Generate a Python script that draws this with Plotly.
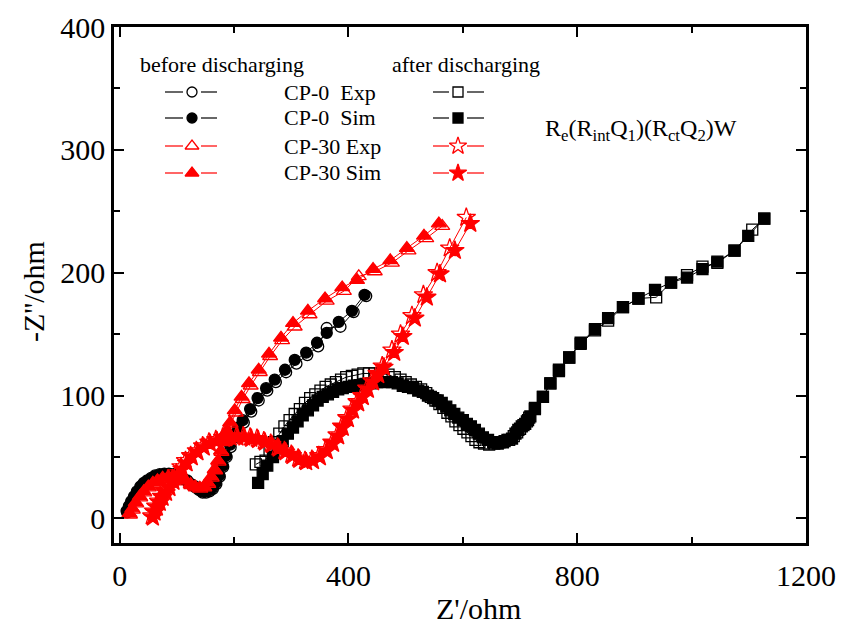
import plotly.graph_objects as go

# ---- Nyquist data (Z' , -Z'') in ohm ----
cp0_before_sim = [(12, 6), (16, 10), (20, 14), (25, 18), (30, 22), (36, 26), (42, 29), (48, 31), (55, 33),
                  (62, 35), (70, 36), (78, 36.5), (86, 36.5), (94, 36), (102, 35), (110, 33), (118, 31),
                  (125, 28), (132, 26), (138, 24), (144, 22), (150, 22), (156, 23), (162, 25), (168, 29),
                  (174, 35), (180, 43), (186, 51), (193, 60), (200, 68), (207, 74), (215, 80), (228, 89),
                  (241, 98), (256, 106), (271, 113), (289, 121), (306, 129), (326, 135), (345, 143),
                  (362, 151), (383, 160), (406, 169), (428, 182)]
cp0_before_exp = [(13, 5), (17, 9), (21, 13), (26, 17), (31, 21), (37, 25), (43, 28), (49, 30), (56, 32),
                  (63, 34), (71, 35), (79, 35.5), (87, 35.5), (95, 35), (103, 34), (111, 32), (119, 30),
                  (126, 27), (133, 25), (139, 23), (145, 21), (151, 21), (157, 22), (163, 24), (169, 28),
                  (175, 34), (181, 42), (187, 50), (194, 58), (201, 66), (208, 72), (217, 78), (230, 87),
                  (243, 96), (258, 104), (273, 111), (291, 119), (309, 126), (328, 133), (347, 140),
                  (362, 155), (386, 156), (409, 168), (431, 181)]

cp30_before_sim = [(17, 4), (22, 8), (28, 13), (35, 18), (42, 22), (50, 26), (58, 29), (66, 31), (75, 33),
                   (85, 34), (95, 34), (105, 33), (115, 31), (124, 28), (132, 26), (140, 25), (147, 26),
                   (154, 29), (160, 34), (166, 40), (172, 47), (177, 55), (182, 63), (187, 71), (193, 78),
                   (201, 88), (213, 99), (226, 110), (243, 121), (261, 134), (282, 147), (303, 159),
                   (329, 169), (359, 179), (389, 188), (415, 194), (443, 203), (473, 210), (502, 220),
                   (532, 230), (558, 240)]
cp30_before_exp = [(18, 3), (23, 7), (29, 12), (36, 17), (43, 21), (51, 25), (59, 28), (67, 30), (76, 32),
                   (86, 33), (96, 33), (106, 32), (116, 30), (125, 27), (133, 25), (141, 24), (148, 25),
                   (155, 28), (161, 33), (167, 39), (173, 46), (178, 54), (183, 62), (188, 70), (194, 77),
                   (203, 86), (215, 97), (229, 108), (245, 119), (263, 132), (284, 145), (306, 156),
                   (332, 166), (362, 177), (392, 185), (418, 197), (446, 201), (476, 208), (505, 218),
                   (536, 228), (564, 238)]

cp0_after_sim = [(242, 29), (250, 36), (258, 43), (268, 50), (276, 57), (285, 63), (294, 69), (303, 74),
                 (311, 79), (320, 84), (329, 88), (338, 92), (346, 96), (355, 99), (364, 101), (373, 103),
                 (382, 105), (390, 106), (400, 107), (410, 108), (420, 108.5), (430, 109.5), (440, 110),
                 (450, 111), (463, 111), (476, 111), (486, 110), (495, 108), (504, 107), (513, 106),
                 (522, 104), (530, 103), (539, 100), (548, 98), (556, 96), (563, 94), (571, 91), (578, 88),
                 (585, 85), (592, 82), (600, 80), (607, 77), (614, 75), (621, 72), (628, 69), (635, 66),
                 (644, 64), (653, 62), (661, 61), (670, 62), (678, 64), (686, 65), (692, 69), (697, 72),
                 (703, 75), (709, 77), (714, 80), (718, 83), (726, 90), (740, 99), (753, 110), (768, 120),
                 (786, 131), (806, 143), (831, 154), (854, 163), (880, 172), (907, 179), (936, 186),
                 (964, 192), (992, 196), (1019, 203), (1045, 209), (1075, 218), (1099, 230), (1127, 244)]
cp0_after_exp = [(238, 44), (246, 46), (255, 47), (262, 55), (270, 62), (279, 69), (288, 75), (297, 80),
                 (306, 85), (315, 89), (324, 94), (333, 98), (342, 101), (351, 104), (360, 107), (369, 109),
                 (378, 111), (387, 113), (396, 115), (406, 116), (416, 117), (426, 118), (436, 118),
                 (446, 118), (458, 118), (470, 117), (481, 115), (491, 113), (500, 111), (509, 109),
                 (518, 107), (527, 105), (536, 102), (544, 99), (552, 96), (559, 93), (566, 90), (573, 86),
                 (580, 83), (587, 79), (594, 76), (601, 73), (608, 70), (615, 67), (622, 64), (629, 62),
                 (637, 61), (646, 60), (655, 61), (664, 62), (673, 63), (681, 64), (689, 67), (695, 70),
                 (700, 73), (706, 76), (712, 79), (716, 82), (726, 89), (740, 99), (753, 110), (768, 121),
                 (786, 131), (806, 142), (831, 153), (854, 161), (880, 172), (907, 179), (938, 180),
                 (964, 192), (992, 198), (1019, 205), (1045, 208), (1075, 218), (1106, 235), (1127, 244)]

cp30_after_sim = [(58, 1), (61, 5), (65, 9), (70, 13), (75, 17), (81, 21), (87, 25), (94, 30), (101, 35),
                  (109, 40), (117, 45), (126, 50), (136, 54), (147, 58), (158, 61), (170, 63), (182, 65),
                  (194, 66), (206, 66), (218, 66), (230, 65), (242, 64), (254, 62), (266, 60), (278, 57),
                  (290, 54), (302, 51), (314, 48), (326, 46), (338, 47), (350, 50), (362, 55), (373, 61),
                  (382, 67), (390, 74), (399, 81), (408, 88), (417, 94), (425, 99), (434, 105), (443, 111),
                  (452, 117), (462, 123), (480, 135), (495, 148), (516, 163), (537, 180), (560, 199),
                  (586, 218), (613, 240)]
cp30_after_exp = [(56, 2), (59, 6), (63, 10), (68, 14), (73, 18), (79, 22), (85, 27), (92, 32), (99, 37),
                  (107, 42), (115, 47), (124, 51), (134, 55), (145, 59), (156, 62), (168, 64), (180, 66),
                  (192, 67), (204, 67), (216, 67), (228, 66), (240, 65), (252, 63), (264, 61), (276, 58),
                  (288, 55), (300, 52), (312, 49), (324, 47), (336, 48), (348, 51), (360, 56), (371, 62),
                  (380, 68), (388, 75), (397, 82), (406, 89), (415, 95), (423, 100), (432, 106), (441, 112),
                  (450, 118), (459, 124), (476, 137), (491, 150), (511, 165), (531, 182), (555, 200),
                  (577, 220), (606, 245)]

series_names = ["CP-0  Exp", "CP-0  Sim", "CP-30 Exp", "CP-30 Sim"]
header_before = "before discharging"
header_after = "after discharging"
circuit_label = "R<sub>e</sub>(R<sub>int</sub>Q<sub>1</sub>)(R<sub>ct</sub>Q<sub>2</sub>)W"

x_ticks = [0, 400, 800, 1200]
y_ticks = [0, 100, 200, 300, 400]

BLACK = "#000000"
RED = "#ff0000"
SERIF = "Liberation Serif, Times New Roman, serif"

# (data, colour, marker symbol, marker size)
styles = [
    (cp0_before_exp, BLACK, "circle-open", 11),
    (cp0_before_sim, BLACK, "circle", 11),
    (cp30_before_exp, RED, "triangle-up-open", 13),
    (cp30_before_sim, RED, "triangle-up", 13),
    (cp0_after_exp, BLACK, "square-open", 11),
    (cp0_after_sim, BLACK, "square", 11),
    (cp30_after_exp, RED, "star-open", 14),
    (cp30_after_sim, RED, "star", 14),
]

fig = go.Figure()
for data, color, symbol, size in styles:
    xs = [p[0] for p in data]
    ys = [p[1] for p in data]
    fig.add_trace(go.Scatter(
        x=xs, y=ys, mode="lines+markers",
        line=dict(color=color, width=1),
        marker=dict(symbol=symbol, size=size, color=color,
                    line=dict(color=color, width=1.3)),
        showlegend=False, hoverinfo="skip"))

# ---- hand-built key drawn on an overlay axis spanning the plot area [0,1] ----
plot_l, plot_r, plot_t, plot_b = 114, 806, 27, 543
def px_x(p):
    return (p - plot_l) / (plot_r - plot_l)
def px_y(p):
    return (plot_b - p) / (plot_b - plot_t)

key_rows_px = [92, 118, 146, 173]
key_left_px = (165, 192, 217)
key_right_px = (433, 458, 484)
for i in range(4):
    for cols, grp in ((key_left_px, i), (key_right_px, i + 4)):
        _, color, symbol, size = styles[grp]
        size = size - 1
        yk = px_y(key_rows_px[i])
        x0, xm, x1 = cols
        fig.add_trace(go.Scatter(
            x=[px_x(x0), px_x(xm - 9), None, px_x(xm + 9), px_x(x1)],
            y=[yk, yk, None, yk, yk], mode="lines",
            line=dict(color=color, width=1.2), xaxis="x2", yaxis="y2",
            showlegend=False, hoverinfo="skip"))
        fig.add_trace(go.Scatter(
            x=[px_x(xm)], y=[yk], mode="markers",
            marker=dict(symbol=symbol, size=size, color=color,
                        line=dict(color=color, width=1.3)),
            xaxis="x2", yaxis="y2", showlegend=False, hoverinfo="skip"))

annotations = [
    dict(text=header_before, x=px_x(222), y=px_y(64)),
    dict(text=header_after, x=px_x(466), y=px_y(64)),
]
for i, name in enumerate(series_names):
    annotations.append(dict(text=name, x=px_x(282), y=px_y(key_rows_px[i]), xanchor="left"))
annotations.append(dict(text=circuit_label, x=px_x(543), y=px_y(130), xanchor="left",
                        font=dict(family=SERIF, size=24, color=BLACK)))
ann_list = []
for a in annotations:
    d = dict(xref="paper", yref="paper", showarrow=False,
             font=dict(family=SERIF, size=22, color=BLACK), yanchor="middle", xanchor="center")
    d.update(a)
    ann_list.append(d)
ann_list.append(dict(text="Z'/ohm", xref="paper", yref="paper", x=px_x(478), y=px_y(608),
                     xanchor="center", yanchor="middle",
                     showarrow=False, font=dict(family=SERIF, size=30, color=BLACK)))
ann_list.append(dict(text="-Z''/ohm", xref="paper", yref="paper", x=px_x(33), y=px_y(292),
                     xanchor="center", yanchor="middle",
                     showarrow=False, textangle=-90, font=dict(family=SERIF, size=30, color=BLACK)))

axis_common = dict(
    showgrid=False, zeroline=False, showline=True, linecolor=BLACK, linewidth=2.5,
    mirror="allticks", ticks="inside", ticklen=10, tickwidth=2, tickcolor=BLACK,
    tickfont=dict(family=SERIF, size=30, color=BLACK), automargin=False,
)
fig.update_layout(
    width=845, height=631,
    margin=dict(l=plot_l, r=845 - plot_r, t=plot_t, b=631 - plot_b),
    paper_bgcolor="white", plot_bgcolor="white",
    xaxis=dict(range=[-10, 1200], tickvals=x_ticks, ticklabelstandoff=4,
               minor=dict(dtick=200, tick0=0, ticks="inside", ticklen=6, tickwidth=2, tickcolor=BLACK),
               **axis_common),
    yaxis=dict(range=[-20, 400], tickvals=y_ticks, ticklabelstandoff=0,
               minor=dict(dtick=50, tick0=0, ticks="inside", ticklen=6, tickwidth=2, tickcolor=BLACK),
               **axis_common),
    xaxis2=dict(overlaying="x", range=[0, 1], visible=False, fixedrange=True, automargin=False),
    yaxis2=dict(overlaying="y", range=[0, 1], visible=False, fixedrange=True, automargin=False),
    annotations=ann_list,
    showlegend=False,
)

fig.write_html("out.html")
